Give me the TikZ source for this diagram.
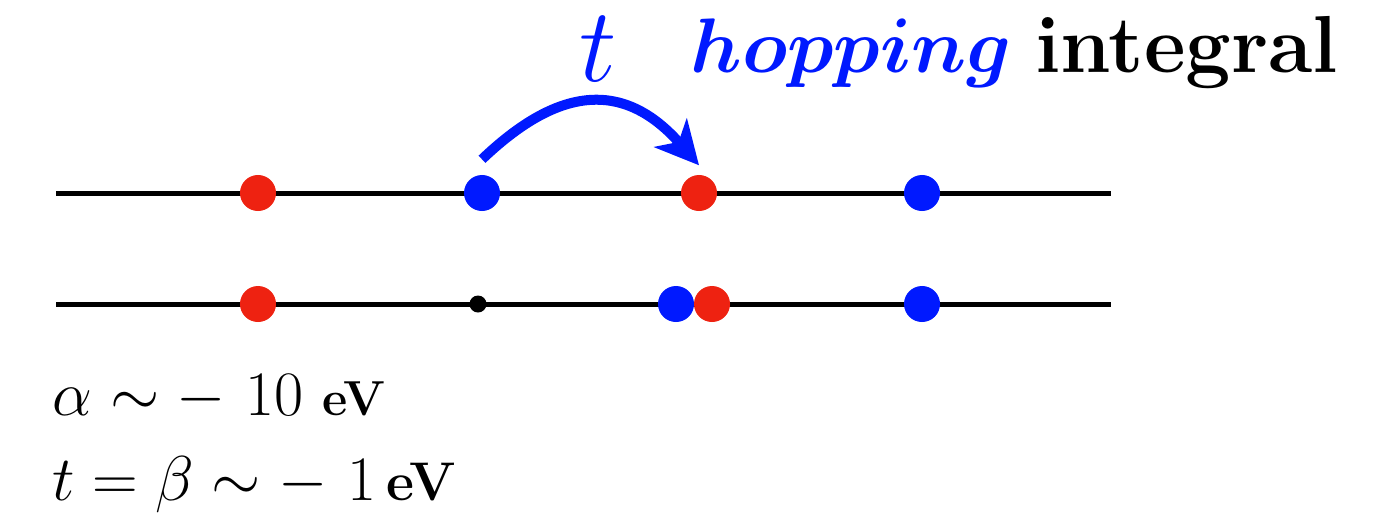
\RequirePackage{fix-cm}
\documentclass[tikz,border=0pt]{standalone}
\usepackage{fontspec}
\usepackage{bm}
\usetikzlibrary{arrows.meta,positioning}
\definecolor{hopblue}{RGB}{0,25,255}
\definecolor{hopred}{RGB}{238,34,17}

\begin{document}
\begin{tikzpicture}[>=Stealth, x=0.01cm, y=-0.01cm]
	\tikzstyle{site}=[circle, inner sep=0pt, minimum size=0.36cm]
	\tikzstyle{redsite}=[site, fill=hopred]
	\tikzstyle{bluesite}=[site, fill=hopblue]
	\tikzstyle{chain}=[line width=0.05cm]
	\tikzstyle{hop}=[hopblue, line width=0.1cm, -{Stealth[length=0.43cm, width=0.43cm, inset=0.12cm]}]
	\tikzstyle{energy}=[anchor=base west, inner sep=0pt, font=\fontsize{18}{22}\selectfont]
	\useasboundingbox (0,0) rectangle (1389,527);
	% the two chains
	\coordinate (topL) at (56,193);
	\coordinate (topR) at (1111,193);
	\coordinate (botL) at (56,304);
	\coordinate (botR) at (1111,304);
	\draw[chain] (topL) -- (topR);
	\draw[chain] (botL) -- (botR);
	% upper chain sites
	\node[redsite] (r1) at (258,193) {};
	\node[bluesite] (b1) at (482,193) {};
	\node[redsite] (r2) at (699,193) {};
	\node[bluesite] (b2) at (922,193) {};
	% lower chain sites
	\node[redsite] (r3) at (258,304) {};
	\node[circle, fill=black, inner sep=0pt, minimum size=0.17cm] (empty) at (478,304) {};
	\node[bluesite] (b3) at (676,304) {};
	\node[redsite] (r4) at (712,304) {};
	\node[bluesite] (b4) at (922,304) {};
	% hopping arrow
	\coordinate (hopfrom) at ([yshift=0.15cm]b1.north);
	\coordinate (hopto) at ([yshift=0.09cm]r2.north);
	\draw[hop] (hopfrom) .. controls (540,104) and (612,66) .. (hopto);
	\node[anchor=base, inner sep=0pt, text=hopblue, font=\fontsize{30}{34}\selectfont] (tlabel) at (598,81) {$t$};
	\node[anchor=base west, inner sep=0pt, font=\fontsize{22}{26}\selectfont] (title) at (690,72) {\textcolor{hopblue}{$\bm{hopping}$} {\fontsize{23}{26}\selectfont\bfseries integral}};
	% energies
	\node[energy] (alpha) at (52,415) {$\alpha\sim -\ 10$ {\fontsize{14}{16}\selectfont\bfseries eV}};
	\node[energy] (beta) at (52,500) {$t=\beta\sim -\ 1\,${\fontsize{15.5}{18}\selectfont\bfseries eV}};
\end{tikzpicture}
\end{document}
